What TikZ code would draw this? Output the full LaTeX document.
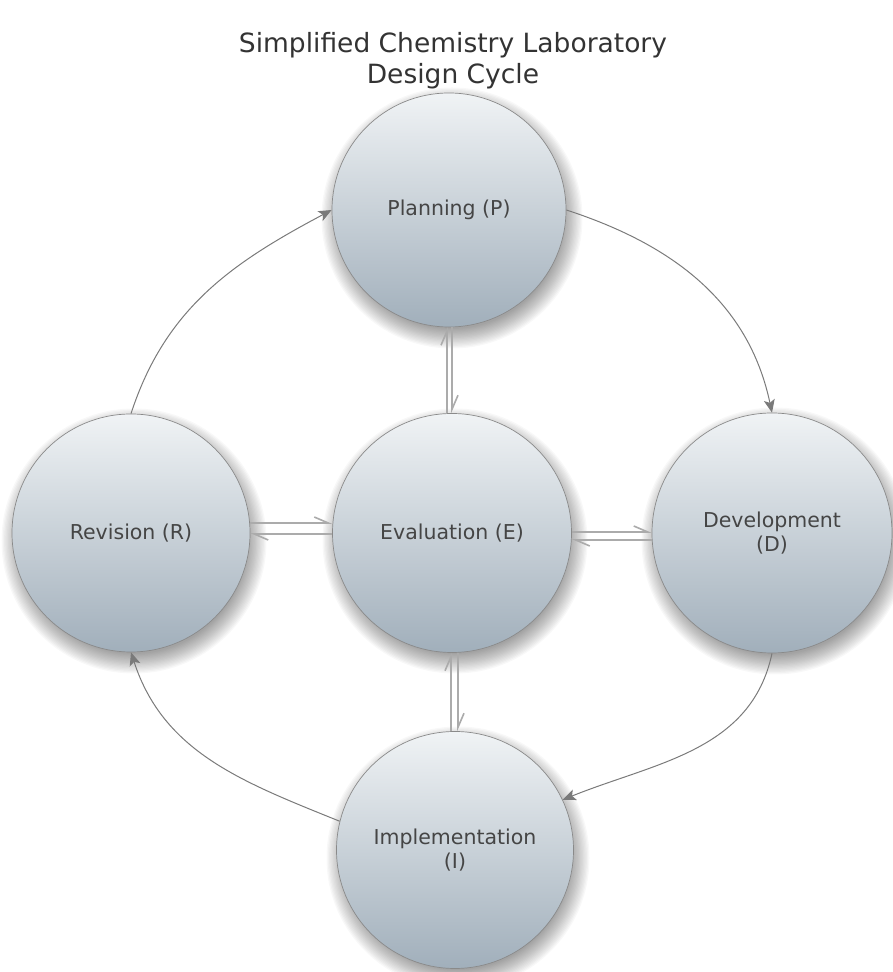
\documentclass[tikz,border=0pt]{standalone}
\usepackage{fontspec}
\setmainfont{DejaVu Sans}
\usetikzlibrary{arrows.meta,backgrounds}
\definecolor{ctop}{HTML}{F0F3F5}
\definecolor{cbot}{HTML}{A1AFBB}
\definecolor{cline}{HTML}{8A8A8A}
\definecolor{carrow}{HTML}{7A7A7A}
\definecolor{charp}{HTML}{ABABAB}
\definecolor{ctext}{HTML}{454545}
\begin{document}
\begin{tikzpicture}[x=1pt,y=1pt,
  phase/.style={circle, inner sep=0pt, draw=cline, line width=0.7pt,
    top color=ctop, bottom color=cbot, text=ctext, align=center,
    font=\fontsize{20.5}{24.6}\selectfont},
  cyc/.style={draw=carrow, line width=1pt, -{Stealth[length=13pt,width=11pt,inset=3pt]}},
  hp/.style={draw=charp, line width=1.8pt, -{Straight Barb[harpoon,length=14pt,width=12pt,line width=1.6pt]}},
  shd/.style={fill=black, opacity=0.028}
]
\useasboundingbox (0,0) rectangle (893,972);

\node[text=black!80, align=center, font=\fontsize{26.5}{31}\selectfont] (title) at (453,911)
  {Simplified Chemistry Laboratory\\Design Cycle};

\node[phase, minimum size=234pt] (P) at (449,762) {Planning (P)};
\node[phase, minimum size=239pt] (E) at (452,439) {Evaluation (E)};
\node[phase, minimum size=238pt] (R) at (131,439) {Revision (R)};
\node[phase, minimum size=240pt] (D) at (772,439) {Development\\(D)};
\node[phase, minimum size=237pt] (I) at (455,122) {Implementation\\(I)};

\begin{scope}[on background layer]
  \foreach \n/\r in {P/117,E/119,R/119,D/120,I/118}{
    \foreach \k in {0,...,15}{
      \fill[shd] ([shift={(3,-8)}]\n.center) circle ({\r-6+\k*1.3});
    }
  }
\end{scope}

% cycle arrows
\draw[cyc] (R.north) to[out=72, in=208] (P.180);
\draw[cyc] (P.0) to[out=-18, in=102] (D.north);
\draw[cyc] (D.south) to[out=-102, in=22] (I.25);
\draw[cyc] (I.166) to[out=158, in=-72] (R.south);

% harpoon pairs
\draw[hp] ([xshift=-5pt]E.north) -- ([xshift=-5pt]E.north |- P.south);
\draw[hp] ([xshift=3pt]P.south) -- ([xshift=3pt]P.south |- E.north);

\draw[hp] ([yshift=10pt]R.east) -- ([yshift=10pt]R.east -| E.west);
\draw[hp] ([yshift=-1pt]E.west) -- ([yshift=-1pt]E.west -| R.east);

\draw[hp] ([yshift=1pt]E.east) -- ([yshift=1pt]E.east -| D.west);
\draw[hp] ([yshift=-7pt]D.west) -- ([yshift=-7pt]D.west -| E.east);

\draw[hp] ([xshift=-4pt]I.north) -- ([xshift=-4pt]I.north |- E.south);
\draw[hp] ([xshift=6pt]E.south) -- ([xshift=6pt]E.south |- I.north);
\end{tikzpicture}
\end{document}
